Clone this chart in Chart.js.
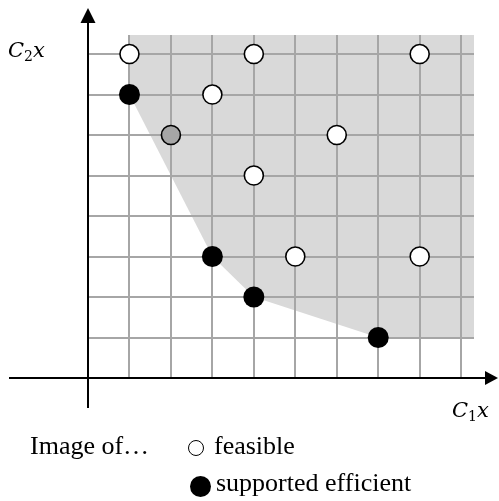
<!DOCTYPE html>
<html>
<head>
<meta charset="utf-8">
<script src="https://cdn.jsdelivr.net/npm/chart.js@4.4.1/dist/chart.umd.min.js"></script>
<style>
  html, body { margin: 0; padding: 0; background: #fff; }
  #wrap { position: relative; width: 499px; height: 501px; overflow: hidden; }
  canvas { position: absolute; left: 0; top: 0; }
  .t { position: absolute; color: #000; white-space: nowrap; line-height: 1; }
  .math { font-family: "DejaVu Serif", serif; font-size: 21px; }
  .math i { font-style: italic; }
  .math sub { font-size: 14px; vertical-align: -4px; line-height: 0; }
  .leg { font-family: "Liberation Serif", "Times New Roman", serif; font-size: 26px; }
  .dot { position: absolute; border-radius: 50%; box-sizing: border-box; }
</style>
</head>
<body>
<div id="wrap">
  <canvas id="c" width="499" height="501"></canvas>
  <div class="t math" style="left:8px; top:40px;"><i>C</i><sub>2</sub><i>x</i></div>
  <div class="t math" style="left:452px; top:400px;"><i>C</i><sub>1</sub><i>x</i></div>
  <div class="t leg" style="left:30px; top:433px;">Image of…</div>
  <div class="dot" style="left:188px; top:440px; width:16px; height:16px; border:1.5px solid #000; background:#fff;"></div>
  <div class="t leg" style="left:214px; top:433px;">feasible</div>
  <div class="dot" style="left:190px; top:476px; width:21px; height:21px; background:#000;"></div>
  <div class="t leg" style="left:216px; top:470px;">supported efficient</div>
</div>
<script>
// ---- data (grid units) ----
const feasibleX = [1, 4, 8, 3, 6, 4, 5, 8];
const feasibleY = [8, 8, 8, 7, 6, 5, 3, 3];
const efficientX = [1, 3, 4, 7];
const efficientY = [7, 3, 2, 1];
const nonSupportedX = [2];
const nonSupportedY = [6];
const regionX = [1, 3, 4, 7, 9.31];
const regionY = [7, 3, 2, 1, 1];
const xMax = 9.31;
const yMax = 8.47;

const toPts = (xs, ys) => xs.map((x, i) => ({ x: x, y: ys[i] }));

const axesPlugin = {
  id: 'arrowAxes',
  afterDraw(chart) {
    const ctx = chart.ctx;
    const xs = chart.scales.x, ys = chart.scales.y;
    const ox = Math.round(xs.getPixelForValue(0));
    const oy = Math.round(ys.getPixelForValue(0));
    ctx.save();
    ctx.strokeStyle = '#000';
    ctx.fillStyle = '#000';
    ctx.lineWidth = 2;
    // x axis
    ctx.beginPath();
    ctx.moveTo(9, oy);
    ctx.lineTo(488, oy);
    ctx.stroke();
    ctx.beginPath();
    ctx.moveTo(498, oy);
    ctx.lineTo(485, oy - 7);
    ctx.lineTo(485, oy + 7);
    ctx.closePath();
    ctx.fill();
    // y axis
    ctx.beginPath();
    ctx.moveTo(ox, 408);
    ctx.lineTo(ox, 20);
    ctx.stroke();
    ctx.beginPath();
    ctx.moveTo(ox, 8);
    ctx.lineTo(ox - 7.5, 23);
    ctx.lineTo(ox + 7.5, 23);
    ctx.closePath();
    ctx.fill();
    ctx.restore();
  }
};

new Chart(document.getElementById('c'), {
  type: 'scatter',
  data: {
    datasets: [
      {
        label: 'feasible',
        data: toPts(feasibleX, feasibleY),
        pointRadius: 9.5,
        pointBackgroundColor: '#ffffff',
        pointBorderColor: '#000000',
        pointBorderWidth: 1.6,
        order: 1
      },
      {
        label: 'supported efficient',
        data: toPts(efficientX, efficientY),
        pointRadius: 10.5,
        pointBackgroundColor: '#000000',
        pointBorderColor: '#000000',
        pointBorderWidth: 0,
        order: 1
      },
      {
        label: 'non-supported efficient',
        data: toPts(nonSupportedX, nonSupportedY),
        pointRadius: 9.5,
        pointBackgroundColor: '#a6a6a6',
        pointBorderColor: '#000000',
        pointBorderWidth: 1.6,
        order: 1
      },
      {
        type: 'line',
        label: 'region',
        data: toPts(regionX, regionY),
        showLine: true,
        fill: 'end',
        backgroundColor: '#d9d9d9',
        borderColor: 'rgba(0,0,0,0)',
        borderWidth: 0,
        pointRadius: 0,
        tension: 0,
        order: 2
      }
    ]
  },
  options: {
    responsive: false,
    animation: false,
    devicePixelRatio: 1,
    layout: { padding: { left: 88, right: 25, top: 35, bottom: 123 } },
    plugins: {
      legend: { display: false },
      tooltip: { enabled: false },
      filler: { drawTime: 'beforeDraw' }
    },
    scales: {
      x: {
        type: 'linear',
        min: 0,
        max: xMax,
        ticks: { display: false, stepSize: 1, includeBounds: false },
        grid: { color: '#a6a6a6', lineWidth: 2, drawTicks: false },
        border: { display: false }
      },
      y: {
        type: 'linear',
        min: 0,
        max: yMax,
        ticks: { display: false, stepSize: 1, includeBounds: false },
        grid: { color: '#a6a6a6', lineWidth: 2, drawTicks: false },
        border: { display: false }
      }
    }
  },
  plugins: [axesPlugin]
});
</script>
</body>
</html>
